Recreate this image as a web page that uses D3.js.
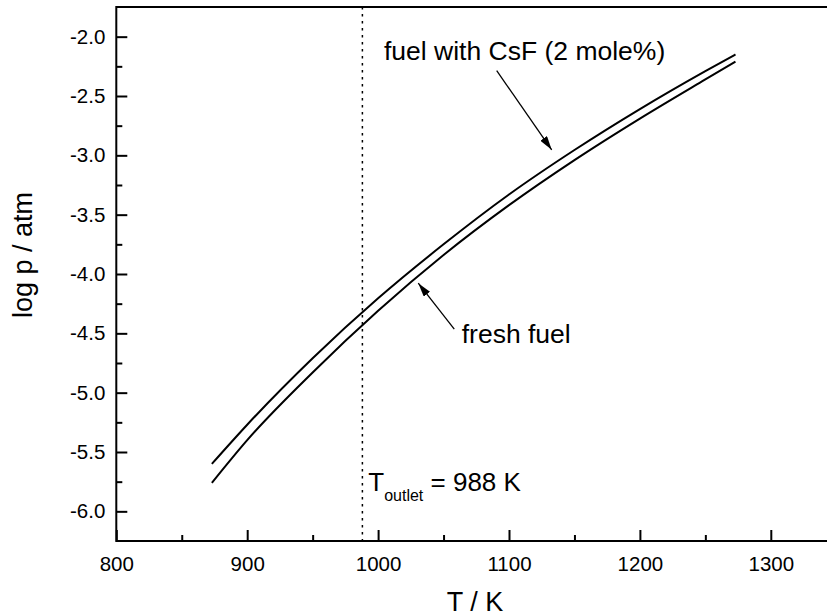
<!DOCTYPE html>
<html>
<head>
<meta charset="utf-8">
<script src="https://cdn.jsdelivr.net/npm/d3@7"></script>
<style>
  body { margin: 0; background: #fff; }
  text { font-family: Arial, "Liberation Sans", Helvetica, sans-serif; fill: #000; }
</style>
</head>
<body>
<svg id="chart" width="827" height="616"></svg>
<script>
// -------------------- DATA -------------------- //
let temps = [873, 900, 950, 1000, 1050, 1100, 1150, 1200, 1250, 1273];
let freshFuel = [-5.76, -5.40, -4.83, -4.31, -3.84, -3.42, -3.04, -2.69, -2.36, -2.21];
let fuelCsF = [-5.60, -5.27, -4.71, -4.205, -3.75, -3.33, -2.955, -2.61, -2.29, -2.15];

let xMajor = [800, 900, 1000, 1100, 1200, 1300];
let xMinor = [850, 950, 1050, 1150, 1250];
let yMajor = [-6.0, -5.5, -5.0, -4.5, -4.0, -3.5, -3.0, -2.5, -2.0];
let yMinor = [-5.75, -5.25, -4.75, -4.25, -3.75, -3.25, -2.75, -2.25];

let tOutlet = 988;

// -------------------- SCALES -------------------- //
let svg = d3.select("#chart");
let marginLeft = 116.3, plotTop = 7, plotBottom = 541;
let pxPerK = 1.309;

let x = d3.scaleLinear().domain([800, 1350]).range([marginLeft, marginLeft + 550 * pxPerK]);
let y = d3.scaleLinear().domain([-6.25, -1.75]).range([plotBottom, plotTop]);

// -------------------- AXES -------------------- //
// plain hyphen instead of unicode minus, like the original
let fmt = d => d3.format(".1f")(d).replace("\u2212", "-");

svg.append("g")
    .attr("transform", `translate(${marginLeft},0)`)
    .call(d3.axisLeft(y).tickValues(yMajor).tickSize(-11).tickPadding(11).tickFormat(fmt));

svg.append("g")
    .attr("transform", `translate(${marginLeft},0)`)
    .call(d3.axisLeft(y).tickValues(yMinor).tickSize(-6).tickFormat(""));

svg.append("g")
    .attr("transform", `translate(0,${plotBottom})`)
    .call(d3.axisBottom(x).tickValues(xMajor).tickSize(-11).tickPadding(15).tickFormat(d3.format("d")));

svg.append("g")
    .attr("transform", `translate(0,${plotBottom})`)
    .call(d3.axisBottom(x).tickValues(xMinor).tickSize(-6).tickFormat(""));

svg.selectAll(".domain").remove();
svg.selectAll(".tick line").attr("stroke", "#000").attr("stroke-width", 2);
svg.selectAll(".tick text").style("font-size", "20.5px").attr("fill", "#000");

// frame (top + left + bottom, right side is cut off)
svg.append("path")
    .attr("d", `M${x(1350)},${y(-1.75)}H${marginLeft}V${plotBottom}H${x(1350)}`)
    .attr("fill", "none")
    .attr("stroke", "#000")
    .attr("stroke-width", 2);

// Axis titles
svg.append("text")
    .attr("x", x(1074))
    .attr("y", 611)
    .attr("text-anchor", "middle")
    .style("font-size", "27px")
    .text("T / K");

svg.append("text")
    .attr("transform", `translate(32,${y(-3.84)}) rotate(-90)`)
    .attr("text-anchor", "middle")
    .style("font-size", "27px")
    .text("log p / atm");

// -------------------- CURVES -------------------- //
let line = d3.line()
    .x((d, i) => x(temps[i]))
    .y(d => y(d))
    .curve(d3.curveMonotoneX);

[fuelCsF, freshFuel].forEach(series => {
    svg.append("path")
        .datum(series)
        .attr("d", line)
        .attr("fill", "none")
        .attr("stroke", "#000")
        .attr("stroke-width", 2);
});

// T outlet dotted line
svg.append("line")
    .attr("x1", x(tOutlet)).attr("x2", x(tOutlet))
    .attr("y1", y(-1.75)).attr("y2", plotBottom)
    .attr("stroke", "#000")
    .attr("stroke-width", 1.5)
    .attr("stroke-dasharray", "2.5,4.5");

// -------------------- ANNOTATIONS -------------------- //
svg.append("defs").append("marker")
    .attr("id", "head")
    .attr("viewBox", "0 0 14 8")
    .attr("refX", 14).attr("refY", 4)
    .attr("markerWidth", 14).attr("markerHeight", 8)
    .attr("markerUnits", "userSpaceOnUse")
    .attr("orient", "auto")
    .append("path")
    .attr("d", "M0,0L14,4L0,8Z")
    .attr("fill", "#000");

function arrow(t1, p1, t2, p2) {
    svg.append("line")
        .attr("x1", x(t1)).attr("y1", y(p1))
        .attr("x2", x(t2)).attr("y2", y(p2))
        .attr("stroke", "#000")
        .attr("stroke-width", 1.3)
        .attr("marker-end", "url(#head)");
}

svg.append("text")
    .attr("x", x(1004.5)).attr("y", y(-2.196))
    .style("font-size", "26.5px")
    .text("fuel with CsF (2 mole%)");
arrow(1090.6, -2.286, 1132.6, -2.954);

svg.append("text")
    .attr("x", x(1063.9)).attr("y", y(-4.58))
    .style("font-size", "26.5px")
    .text("fresh fuel");
arrow(1058.2, -4.464, 1030.7, -4.077);

let tLabel = svg.append("text")
    .attr("x", x(992.5)).attr("y", y(-5.83))
    .style("font-size", "26px");
tLabel.append("tspan").text("T");
tLabel.append("tspan").attr("dy", 10).style("font-size", "16px").text("outlet");
tLabel.append("tspan").attr("dy", -10).text(" = 988 K");
</script>
</body>
</html>
